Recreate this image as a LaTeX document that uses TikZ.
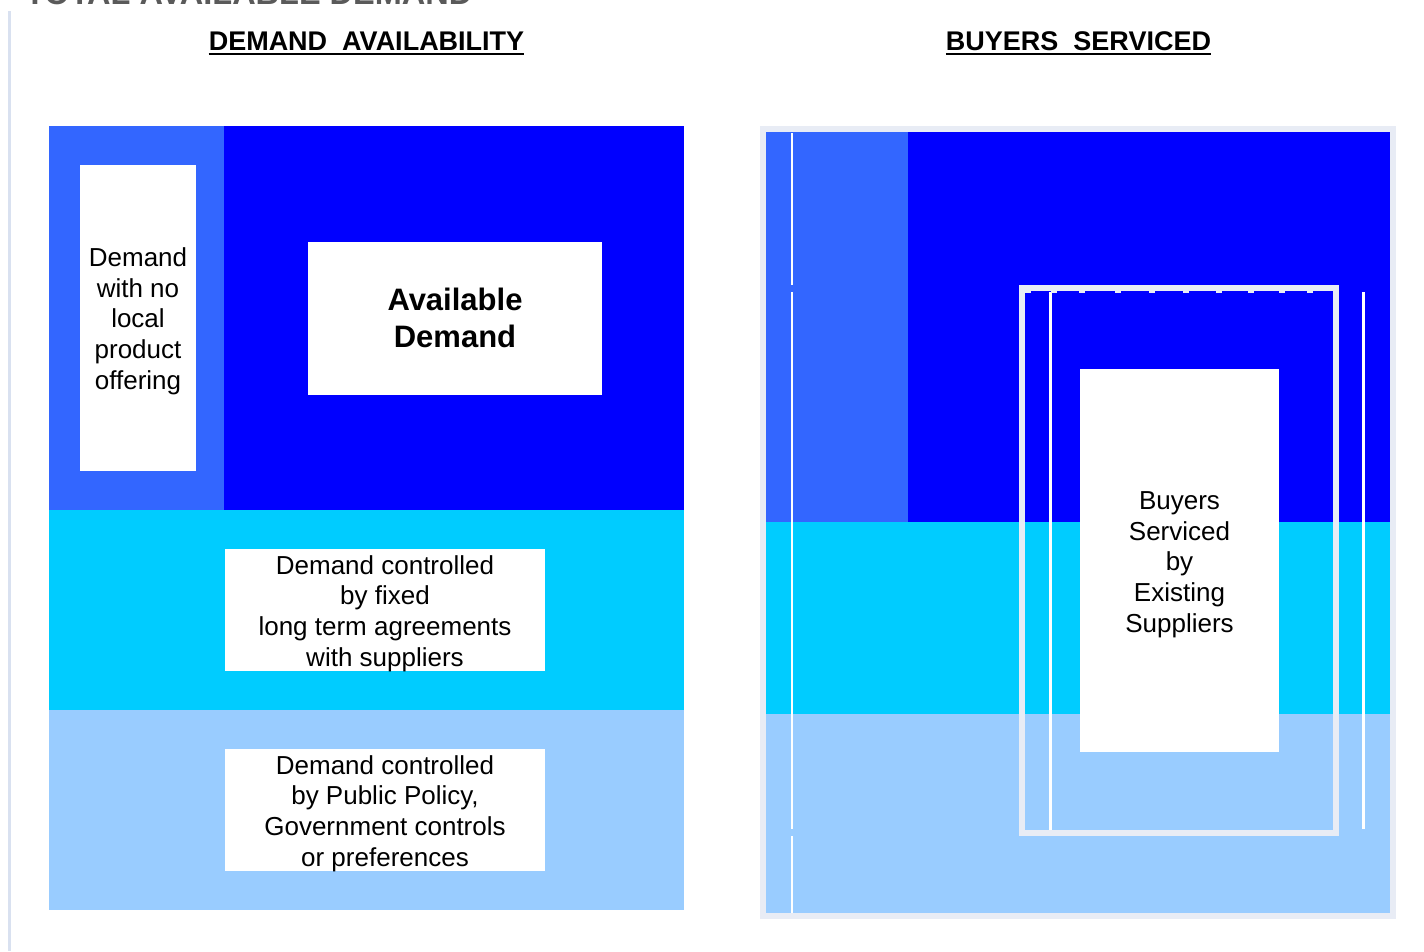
\documentclass[tikz,border=0pt]{standalone}
\usepackage{fontspec}
\setmainfont{Liberation Sans}
\definecolor{cLight}{HTML}{3366FF}
\definecolor{cDark}{HTML}{0000FF}
\definecolor{cCyan}{HTML}{00CCFF}
\definecolor{cPale}{HTML}{99CCFF}
\definecolor{cFrame}{HTML}{E8ECF5}
\definecolor{cEdge}{HTML}{D9E1F0}
\definecolor{cGrayTitle}{HTML}{5A5A5A}
\tikzset{
  wbox/.style={fill=white, inner sep=0pt, align=center, font=\fontsize{26}{30.7}\selectfont},
  wtext/.style={inner sep=0pt, align=center, font=\fontsize{26}{30.7}\selectfont},
  boldbox/.style={fill=white, inner sep=0pt, align=center, font=\fontsize{31}{37}\selectfont\bfseries},
  heading/.style={inner sep=0pt, anchor=base, font=\fontsize{27}{31}\selectfont\bfseries},
  uline/.style={line width=2.5pt, black},
}
\begin{document}
\begin{tikzpicture}[x=1pt,y=-1pt]
\useasboundingbox (0,0) rectangle (1424,951);
\clip (0,0) rectangle (1424,951);
% page edge line and cut-off title
\fill[cEdge] (8,11) rectangle (11,951);
\node[inner sep=0pt, anchor=base west, text=cGrayTitle, font=\fontsize{32.5}{38}\selectfont\bfseries] (top) at (25,4.5) {TOTAL AVAILABLE DEMAND};
% headings
\node[heading] (h1) at (366.5,50) {DEMAND\ \ AVAILABILITY};
\draw[uline] ([yshift=-4pt]h1.base west) -- ([yshift=-4pt]h1.base east);
\node[heading] (h2) at (1078.5,50) {BUYERS\ \ SERVICED};
\draw[uline] ([yshift=-4pt]h2.base west) -- ([yshift=-4pt]h2.base east);
% ---------- left panel ----------
\fill[cLight] (49,126) rectangle (224,510);
\fill[cDark] (224,126) rectangle (684,510);
\fill[cCyan] (49,510) rectangle (684,710);
\fill[cPale] (49,710) rectangle (684,910);
\node[wbox, minimum width=116pt, minimum height=306pt] (nolocal) at (138,318) {};
\node[wtext] (nolocalt) at (138,321) {Demand\\with no\\local\\product\\offering};
\node[boldbox, minimum width=294pt, minimum height=153pt] (avail) at (455,318.5) {};
\node[inner sep=0pt, align=center, font=\fontsize{31}{37}\selectfont\bfseries] (availt) at (455,318) {Available\\Demand};
\node[wbox, minimum width=320pt, minimum height=122pt] (fixed) at (385,610) {};
\node[wtext] (fixedt) at (385,613.5) {Demand controlled\\by fixed\\long term agreements\\with suppliers};
\node[wbox, minimum width=320pt, minimum height=122pt] (policy) at (385,810) {};
\node[wtext] (policyt) at (385,813.5) {Demand controlled\\by Public Policy,\\Government controls\\or preferences};
% ---------- right panel ----------
\fill[cFrame] (760,126) rectangle (1396,919);
\fill[cDark] (766,132) rectangle (1390,522);
\fill[cLight] (766,132) rectangle (908,522);
\fill[cCyan] (766,522) rectangle (1390,714);
\fill[cPale] (766,714) rectangle (1390,913);
% white guide lines
\fill[white] (791,133) rectangle (793,285);
\fill[white] (791,292) rectangle (793,829);
\fill[white] (791,836) rectangle (793,913);
\fill[white] (1049,292) rectangle (1052,830);
\fill[white] (1362,292) rectangle (1365,829);
% inner frame
\draw[cFrame, line width=6pt] (1022,288) rectangle (1336,833);
\foreach \tx in {1025,1051,1079,1115,1149,1183,1216,1248,1279,1307}{
  \fill[cFrame] (\tx,291) rectangle ++(6,1.5);
  \fill[cFrame] (\tx,834.5) rectangle ++(6,1.5);
}
\node[wbox, minimum width=199pt, minimum height=383pt] (serviced) at (1179.5,560.5) {};
\node[wtext] (servicedt) at (1179.5,564.5) {Buyers\\Serviced\\by\\Existing\\Suppliers};
\end{tikzpicture}
\end{document}
